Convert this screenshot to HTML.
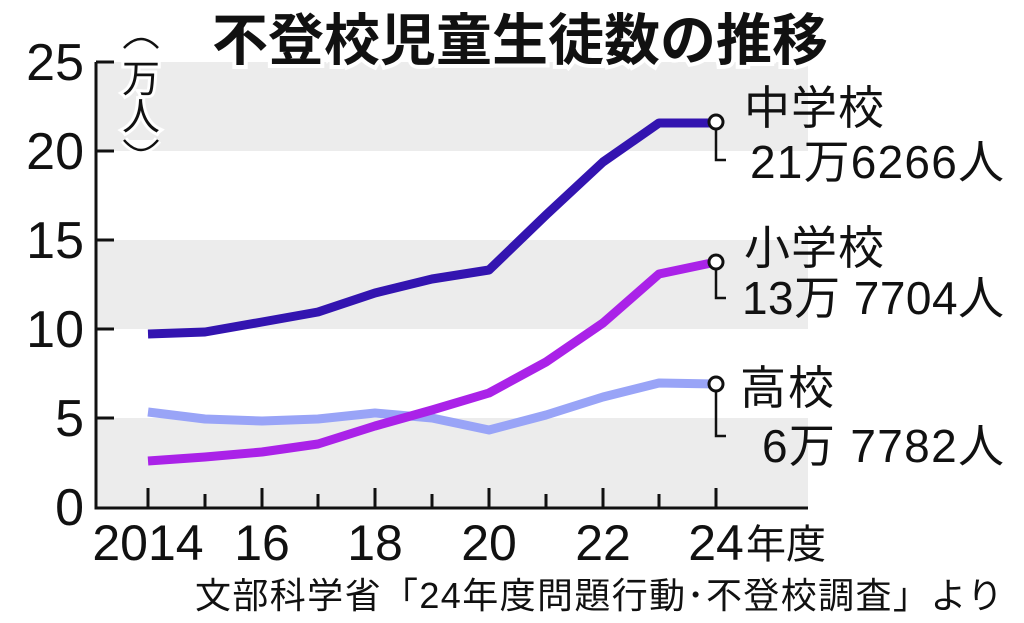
<!DOCTYPE html>
<html><head><meta charset="utf-8"><style>
body{margin:0;background:#fff}
svg{display:block}
text{font-family:"Liberation Sans","Noto Sans CJK JP",sans-serif;fill:#111}
</style></head><body>
<svg width="1024" height="623" viewBox="0 0 1024 623">
<rect x="96" y="62" width="712" height="89" fill="#ececec"/>
<rect x="96" y="240" width="712" height="89" fill="#ececec"/>
<rect x="96" y="418" width="712" height="90" fill="#ececec"/>
<g stroke="#111" stroke-width="3" fill="none">
<path d="M96 62V508H808"/>
<path d="M96 62h18M96 151h18M96 240h18M96 329h18M96 418h18"/>
<path d="M148 508v-20M205 508v-14M262 508v-20M318 508v-14M375 508v-20M432 508v-14M489 508v-20M546 508v-14M603 508v-20M659 508v-14M716 508v-20"/>
</g>
<g font-size="52" text-anchor="end">
<text x="84" y="80">25</text><text x="84" y="169">20</text><text x="84" y="258">15</text><text x="84" y="347">10</text><text x="84" y="436">5</text><text x="84" y="525">0</text>
</g>
<g font-size="50" text-anchor="middle">
<text x="148" y="560">2014</text><text x="262" y="560">16</text><text x="375" y="560">18</text><text x="489" y="560">20</text><text x="603" y="560">22</text><text x="716" y="560">24</text>
</g>
<text x="746" y="558" font-size="40">年度</text>
<g fill="#fff" stroke="#111" stroke-width="2.5">
<path d="M124 48Q141 30 158 48" stroke="#fff" stroke-width="8"/>
<path d="M124 48Q141 30 158 48" fill="none"/>
<path d="M124 140Q141 160 158 140" stroke="#fff" stroke-width="8"/>
<path d="M124 140Q141 160 158 140" fill="none"/>
</g>
<text x="122" y="92" font-size="38" stroke="#fff" stroke-width="6" paint-order="stroke">万</text>
<text x="122" y="130" font-size="38" stroke="#fff" stroke-width="6" paint-order="stroke">人</text>
<text x="520" y="60" font-size="56" font-weight="bold" text-anchor="middle" stroke="#fff" stroke-width="8" paint-order="stroke">不登校児童生徒数の推移</text>
<g fill="none" stroke-width="9" stroke-linejoin="round">
<polyline stroke="#99a4f7" points="148,412 205,419 262,421 318,419 375,413 432,418 489,430 546,415 603,397 659,383 716,384"/>
<polyline stroke="#aa22e8" points="148,461 205,457 262,452 318,444 375,426 432,410 489,393 546,362 603,323 659,274 716,262"/>
<polyline stroke="#3314b0" points="148,334 205,332 262,322 318,312 375,293 432,279 489,270 546,215 603,162 659,123 716,123"/>
</g>
<g fill="#fff" stroke="#111" stroke-width="3">
<circle cx="716" cy="122" r="7"/><circle cx="716" cy="262" r="7"/><circle cx="716" cy="384" r="7"/>
</g>
<g stroke="#111" stroke-width="2.5" fill="none">
<path d="M716 130V160h10M716 270V298h10M716 392V436h10"/>
</g>
<g font-size="46">
<text x="744" y="124" textLength="140">中学校</text>
<text x="750" y="178" textLength="254">21万6266人</text>
<text x="744" y="264" textLength="140">小学校</text>
<text x="742" y="314" textLength="262">13万 7704人</text>
<text x="740" y="404" textLength="94">高校</text>
<text x="762" y="462" textLength="242">6万 7782人</text>
</g>
<text x="195" y="608" font-size="36" textLength="808">文部科学省「24年度問題行動･不登校調査」より</text>
</svg>
</body></html>
